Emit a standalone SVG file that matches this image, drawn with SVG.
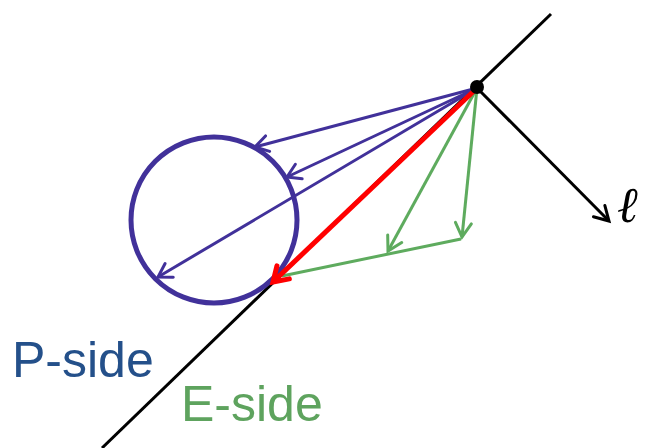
<svg xmlns="http://www.w3.org/2000/svg" width="648" height="448" viewBox="0 0 648 448">
<style>
.pu{stroke:#41319a;stroke-width:3;fill:none}
.gr{stroke:#5eab5e;stroke-width:3;fill:none}
.rd{stroke:#ff0000;stroke-width:5;fill:none}
.bk{stroke:#000;stroke-width:3;fill:none}
</style>
<defs>
<marker id="mp" markerUnits="userSpaceOnUse" markerWidth="40" markerHeight="40" viewBox="-20 -20 40 40" refX="0" refY="0" orient="auto"><path d="M-13,-8 L0,0 L-13,8" stroke="#41319a" stroke-width="3" fill="none" stroke-linecap="round"/></marker>
<marker id="mg" markerUnits="userSpaceOnUse" markerWidth="40" markerHeight="40" viewBox="-20 -20 40 40" refX="0" refY="0" orient="auto"><path d="M-14,-8 L0,0 L-14,8" stroke="#5eab5e" stroke-width="3" fill="none" stroke-linecap="round"/></marker>
<marker id="mr" markerUnits="userSpaceOnUse" markerWidth="40" markerHeight="40" viewBox="-20 -20 40 40" refX="0" refY="0" orient="auto"><path d="M-14,-9 L0,0 L-14,9" stroke="#ff0000" stroke-width="5" fill="none" stroke-linecap="round"/></marker>
<marker id="mk" markerUnits="userSpaceOnUse" markerWidth="40" markerHeight="40" viewBox="-20 -20 40 40" refX="0" refY="0" orient="auto"><path d="M-14,-8 L0,0 L-14,8" stroke="#000" stroke-width="3" fill="none" stroke-linecap="round"/></marker>
</defs>
<g id="boundary"><line class="bk" x1="551" y1="14" x2="102" y2="448"/></g>
<g id="ball"><circle cx="214" cy="220" r="83" fill="none" stroke="#41319a" stroke-width="5"/></g>
<g id="connectors">
<line class="pu" x1="477" y1="88" x2="255" y2="147" marker-end="url(#mp)"/>
<line class="pu" x1="477" y1="88" x2="287" y2="177" marker-end="url(#mp)"/>
<line class="pu" x1="477" y1="88" x2="158" y2="277" marker-end="url(#mp)"/>
<line class="gr" x1="477" y1="88" x2="462" y2="237" marker-end="url(#mg)"/>
<line class="gr" x1="477" y1="88" x2="388" y2="251" marker-end="url(#mg)"/>
<line class="gr" x1="461" y1="239" x2="282" y2="276"/>
<line class="rd" x1="477" y1="88" x2="273" y2="282" marker-end="url(#mr)"/>
<line class="bk" x1="477" y1="88" x2="609" y2="221" marker-end="url(#mk)"/>
</g>
<g id="point"><circle cx="477" cy="87" r="7" fill="#000"/></g>
<g id="labels">
<text x="617" y="222" font-family="Liberation Serif, serif" font-style="italic" font-size="50" fill="#000">ℓ</text>
<text x="12" y="377" font-family="Liberation Sans, sans-serif" font-size="50" fill="#24508a">P-side</text>
<text x="181" y="421" font-family="Liberation Sans, sans-serif" font-size="50" fill="#5ea35e">E-side</text>
</g>
</svg>
